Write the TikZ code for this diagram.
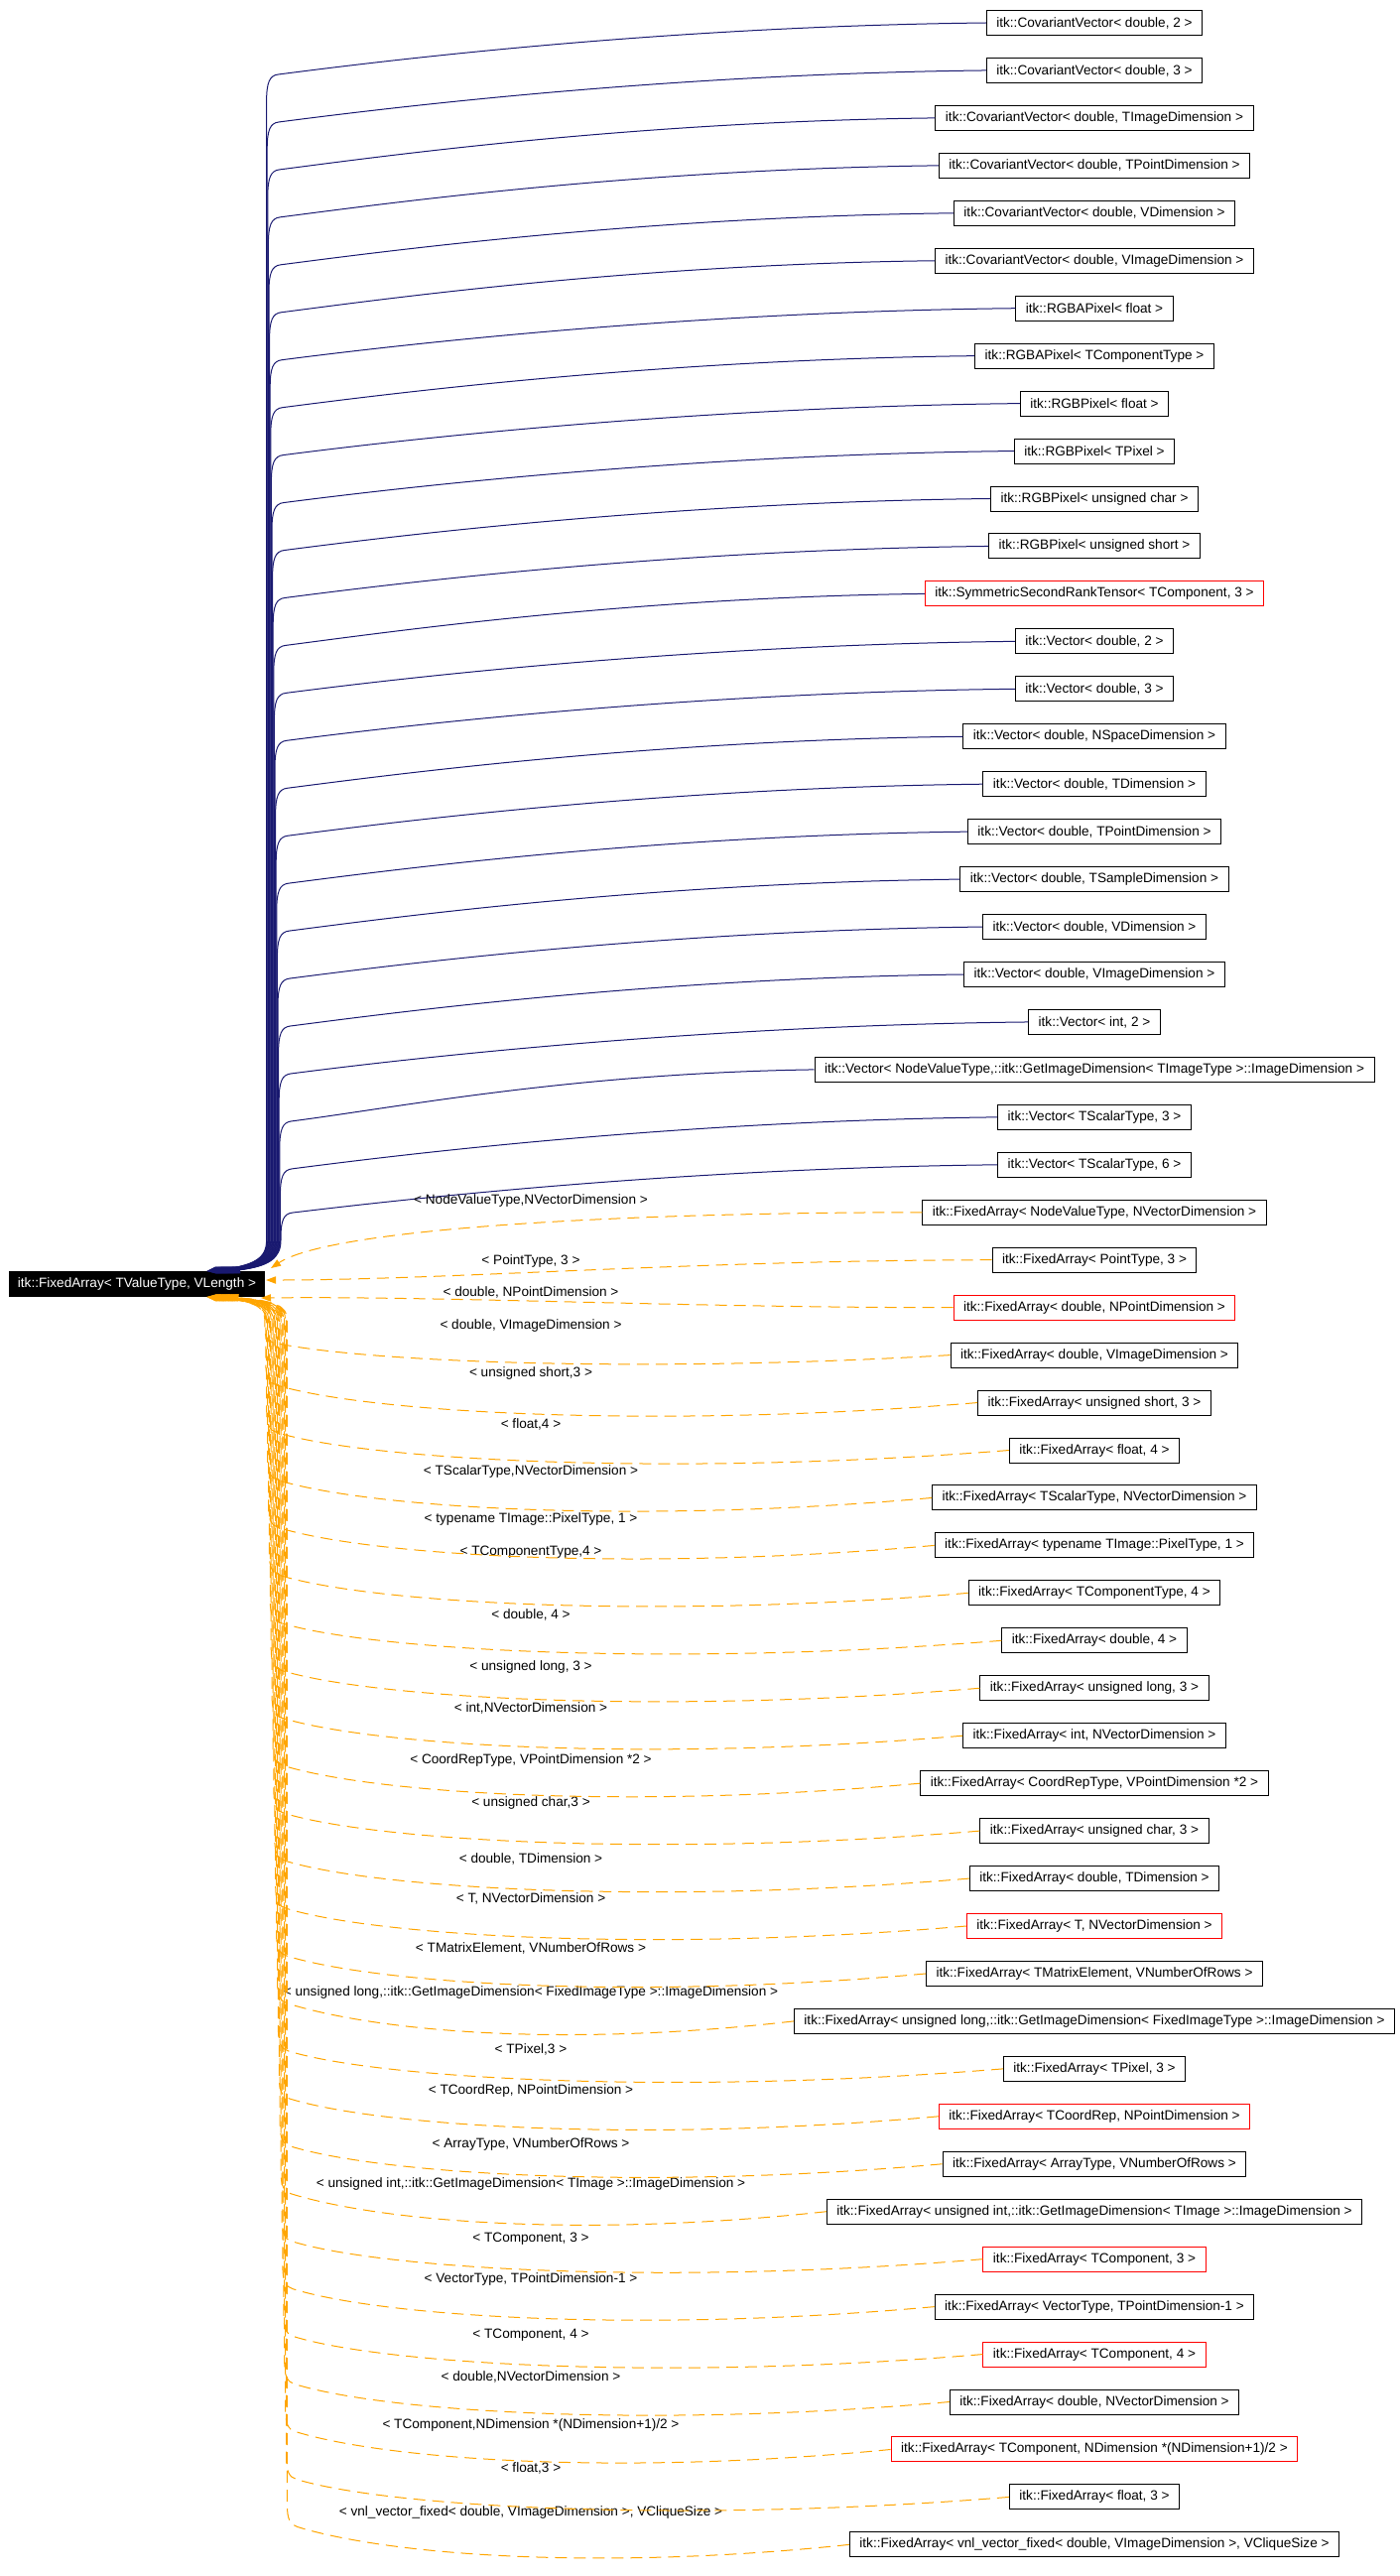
\documentclass[tikz,border=0pt]{standalone}
\usepackage{fontspec}
\setmainfont{Liberation Sans}
\usetikzlibrary{arrows.meta, calc}
\definecolor{inhblue}{HTML}{191970}
\definecolor{tplorange}{HTML}{FFA500}

\begin{document}
\begin{tikzpicture}[x=0.5pt, y=-0.5pt,
  cls/.style={draw, line width=0.5pt, fill=white, font=\fontsize{6.8}{8}\selectfont,
    inner xsep=5pt, inner ysep=0pt, minimum height=12.5pt},
  inh/.style={inhblue, line width=0.5pt, -{Triangle[length=5pt,width=3.6pt]}},
  tpl/.style={tplorange, line width=0.5pt, dash pattern=on 6pt off 3.5pt,
    -{Triangle[length=5pt,width=3.6pt]}},
  elabel/.style={font=\fontsize{6.8}{8}\selectfont, inner sep=0pt}]
  \useasboundingbox (0,0) rectangle (1410,2596);
  % base class
  \node[cls, fill=black, text=white, anchor=west, minimum width=128.5pt, inner xsep=3pt]
    (root) at (9,1294) {itk::FixedArray< TValueType, VLength >};
  % public inheritance
  \foreach \i/\txt/\col in {
    1/{itk::CovariantVector< double, 2 >}/black,
    2/{itk::CovariantVector< double, 3 >}/black,
    3/{itk::CovariantVector< double, TImageDimension >}/black,
    4/{itk::CovariantVector< double, TPointDimension >}/black,
    5/{itk::CovariantVector< double, VDimension >}/black,
    6/{itk::CovariantVector< double, VImageDimension >}/black,
    7/{itk::RGBAPixel< float >}/black,
    8/{itk::RGBAPixel< TComponentType >}/black,
    9/{itk::RGBPixel< float >}/black,
    10/{itk::RGBPixel< TPixel >}/black,
    11/{itk::RGBPixel< unsigned char >}/black,
    12/{itk::RGBPixel< unsigned short >}/black,
    13/{itk::SymmetricSecondRankTensor< TComponent, 3 >}/red,
    14/{itk::Vector< double, 2 >}/black,
    15/{itk::Vector< double, 3 >}/black,
    16/{itk::Vector< double, NSpaceDimension >}/black,
    17/{itk::Vector< double, TDimension >}/black,
    18/{itk::Vector< double, TPointDimension >}/black,
    19/{itk::Vector< double, TSampleDimension >}/black,
    20/{itk::Vector< double, VDimension >}/black,
    21/{itk::Vector< double, VImageDimension >}/black,
    22/{itk::Vector< int, 2 >}/black,
    23/{itk::Vector< NodeValueType,::itk::GetImageDimension< TImageType >::ImageDimension >}/black,
    24/{itk::Vector< TScalarType, 3 >}/black,
    25/{itk::Vector< TScalarType, 6 >}/black}
  {
    \pgfmathsetmacro\yb{23+(\i-1)*47.95}
    \pgfmathsetmacro\xl{268+0.6*\i}
    \pgfmathsetmacro\s{min(1,(1248-\yb)/80)}
    \pgfmathsetmacro\dx{(\i-60)*0.5}
    \node[cls, draw=\col] (b\i) at (1103,\yb) {\txt};
    \draw[inh] (b\i.west) .. controls ($(b\i.west)!0.45!(\xl,\yb+8)$) and (\xl+120,\yb+38*\s)
      .. (\xl+12,\yb+52*\s) .. controls (\xl+3,\yb+53*\s) and (\xl,\yb+60*\s) .. (\xl,\yb+80*\s)
      -- (\xl,1250) .. controls (\xl,1268) and (\xl-12,1276) .. ([xshift=\dx pt]root.north east);
  }
  % template instances
  \foreach \i/\txt/\lab/\col/\ly in {
    26/{itk::FixedArray< NodeValueType, NVectorDimension >}/{< NodeValueType,NVectorDimension >}/black/1210,
    27/{itk::FixedArray< PointType, 3 >}/{< PointType, 3 >}/black/1271,
    28/{itk::FixedArray< double, NPointDimension >}/{< double, NPointDimension >}/red/1302,
    29/{itk::FixedArray< double, VImageDimension >}/{< double, VImageDimension >}/black/1336,
    30/{itk::FixedArray< unsigned short, 3 >}/{< unsigned short,3 >}/black/1384,
    31/{itk::FixedArray< float, 4 >}/{< float,4 >}/black/1435,
    32/{itk::FixedArray< TScalarType, NVectorDimension >}/{< TScalarType,NVectorDimension >}/black/1483,
    33/{itk::FixedArray< typename TImage::PixelType, 1 >}/{< typename TImage::PixelType, 1 >}/black/1531,
    34/{itk::FixedArray< TComponentType, 4 >}/{< TComponentType,4 >}/black/1564,
    35/{itk::FixedArray< double, 4 >}/{< double, 4 >}/black/1627,
    36/{itk::FixedArray< unsigned long, 3 >}/{< unsigned long, 3 >}/black/1680,
    37/{itk::FixedArray< int, NVectorDimension >}/{< int,NVectorDimension >}/black/1721,
    38/{itk::FixedArray< CoordRepType, VPointDimension *2 >}/{< CoordRepType, VPointDimension *2 >}/black/1774,
    39/{itk::FixedArray< unsigned char, 3 >}/{< unsigned char,3 >}/black/1817,
    40/{itk::FixedArray< double, TDimension >}/{< double, TDimension >}/black/1873,
    41/{itk::FixedArray< T, NVectorDimension >}/{< T, NVectorDimension >}/red/1913,
    42/{itk::FixedArray< TMatrixElement, VNumberOfRows >}/{< TMatrixElement, VNumberOfRows >}/black/1963,
    43/{itk::FixedArray< unsigned long,::itk::GetImageDimension< FixedImageType >::ImageDimension >}/{< unsigned long,::itk::GetImageDimension< FixedImageType >::ImageDimension >}/black/2008,
    44/{itk::FixedArray< TPixel, 3 >}/{< TPixel,3 >}/black/2065,
    45/{itk::FixedArray< TCoordRep, NPointDimension >}/{< TCoordRep, NPointDimension >}/red/2107,
    46/{itk::FixedArray< ArrayType, VNumberOfRows >}/{< ArrayType, VNumberOfRows >}/black/2161,
    47/{itk::FixedArray< unsigned int,::itk::GetImageDimension< TImage >::ImageDimension >}/{< unsigned int,::itk::GetImageDimension< TImage >::ImageDimension >}/black/2201,
    48/{itk::FixedArray< TComponent, 3 >}/{< TComponent, 3 >}/red/2256,
    49/{itk::FixedArray< VectorType, TPointDimension-1 >}/{< VectorType, TPointDimension-1 >}/black/2297,
    50/{itk::FixedArray< TComponent, 4 >}/{< TComponent, 4 >}/red/2353,
    51/{itk::FixedArray< double, NVectorDimension >}/{< double,NVectorDimension >}/black/2395,
    52/{itk::FixedArray< TComponent, NDimension *(NDimension+1)/2 >}/{< TComponent,NDimension *(NDimension+1)/2 >}/red/2444,
    53/{itk::FixedArray< float, 3 >}/{< float,3 >}/black/2487,
    54/{itk::FixedArray< vnl\_vector\_fixed< double, VImageDimension >, VCliqueSize >}/{< vnl\_vector\_fixed< double, VImageDimension >, VCliqueSize >}/black/2532}
  {
    \pgfmathsetmacro\yb{23+(\i-1)*47.95}
    \node[cls, draw=\col] (b\i) at (1103,\yb) {\txt};
    \node[elabel] (l\i) at (535,\ly) {\lab};
  }
  \draw[tpl] (b26.west) .. controls (600,1222) and (330,1240) .. ([xshift=3pt,yshift=1.5pt]root.north east);
  \draw[tpl] (b27.west) .. controls (700,1270) and (450,1290) .. ([xshift=0.5pt,yshift=2pt]root.east);
  \draw[tpl] (b28.west) .. controls (700,1318) and (450,1306) .. ([xshift=-2pt,yshift=-0.5pt]root.south east);
  \foreach \i in {29,...,54}{
    \pgfmathsetmacro\yb{23+(\i-1)*47.95}
    \pgfmathsetmacro\xl{266+0.9*(\i-28)}
    \pgfmathsetmacro\s{min(1,(\yb-1335)/45)}
    \pgfmathsetmacro\dx{(207+(\i-29)*0.9-266)*0.5}
    \draw[tpl] (b\i.west) .. controls ($(b\i.west)!0.45!(\xl,\yb+60*\s)$) and (\xl+100,\yb+10*\s)
      .. (\xl+10,\yb-18*\s) .. controls (\xl+3,\yb-20*\s) and (\xl,\yb-26*\s) .. (\xl,\yb-40*\s)
      -- (\xl,1330) .. controls (\xl,1316) and (\xl-12,1311) .. ([xshift=\dx pt]root.south east);
  }
\end{tikzpicture}
\end{document}
